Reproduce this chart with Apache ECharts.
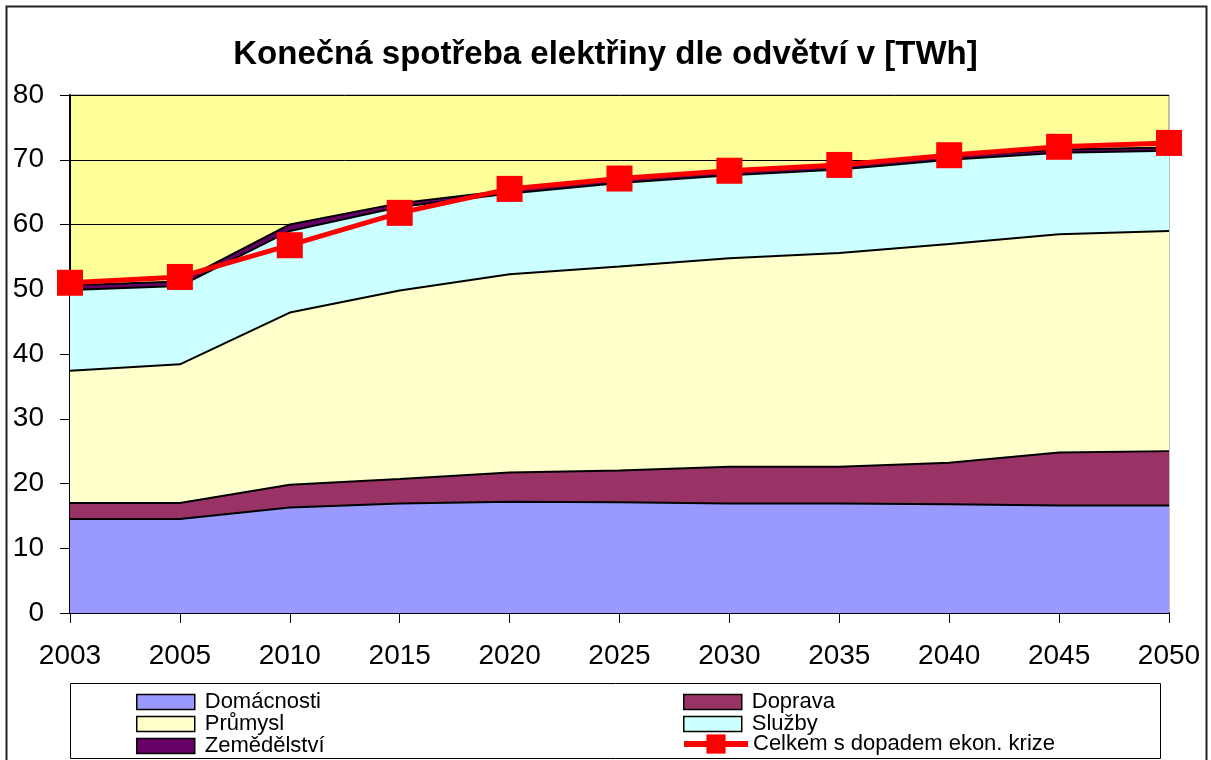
<!DOCTYPE html>
<html>
<head>
<meta charset="utf-8">
<script src="https://cdn.jsdelivr.net/npm/echarts@6/dist/echarts.min.js"></script>
<style>
  html, body { margin: 0; padding: 0; background: #fff; }
  #chart { width: 1211px; height: 760px; }
</style>
</head>
<body>
<div id="chart"></div>
<script>
// roky
var years = ['2003', '2005', '2010', '2015', '2020', '2025', '2030', '2035', '2040', '2045', '2050'];

// spotřeba podle odvětví [TWh]
var domacnosti  = [14.5, 14.5, 16.3, 16.9, 17.2, 17.1, 16.9, 16.9, 16.8, 16.6, 16.6];
var doprava     = [2.5, 2.5, 3.5, 3.8, 4.5, 4.9, 5.7, 5.7, 6.4, 8.2, 8.4];
var prumysl     = [20.4, 21.4, 26.6, 29.1, 30.6, 31.5, 32.2, 33.0, 33.8, 33.7, 34.0];
var sluzby      = [12.5, 12.1, 12.6, 12.9, 12.5, 12.9, 12.8, 12.9, 13.0, 12.6, 12.4];
var zemedelstvi = [0.7, 0.7, 1.0, 0.6, 0.5, 0.5, 0.5, 0.5, 0.5, 0.5, 0.5];
var celkem      = [51.0, 51.9, 56.8, 61.8, 65.5, 67.1, 68.3, 69.2, 70.7, 72.0, 72.6];

var font = 'Liberation Sans, Arial, sans-serif';

function area(name, data, color) {
	return {
		name: name,
		type: 'line',
		stack: 'total',
		data: data,
		showSymbol: false,
		symbol: 'none',
		lineStyle: { color: '#000', width: 2 },
		itemStyle: { color: color },
		areaStyle: { color: color, opacity: 1 },
		emphasis: { disabled: true }
	};
}

function legendItem(name) {
	return { name: name, icon: 'rect', itemStyle: { borderColor: '#000', borderWidth: 1.5 } };
}

// společné nastavení sloupců legendy
function legendCol(left, top, items) {
	return {
		orient: 'vertical',
		left: left,
		top: top,
		height: 80,
		padding: 0,
		itemWidth: 58,
		itemHeight: 15,
		itemGap: 0,
		textStyle: { fontFamily: font, fontSize: 22, lineHeight: 20, color: '#000', padding: [0, 0, 0, 5] },
		data: items
	};
}

// řádek s celkem - větší značka a tlustší čára
var legendCelkem = legendCol(681, 733, [{ name: 'Celkem s dopadem ekon. krize' }]);
legendCelkem.itemWidth = 64;
legendCelkem.itemHeight = 24;
legendCelkem.lineStyle = { width: 6 };
legendCelkem.textStyle.padding = [2, 0, 0, 0];

var chart = echarts.init(document.getElementById('chart'));

chart.setOption({
	animation: false,
	title: {
		text: 'Konečná spotřeba elektřiny dle odvětví v [TWh]',
		left: 'center',
		top: 33,
		textStyle: { fontFamily: font, fontSize: 33, fontWeight: 'bold', color: '#000' }
	},
	graphic: [
		{ type: 'rect', shape: { x: 6.5, y: 6.5, width: 1200, height: 780 }, style: { fill: 'none', stroke: '#222', lineWidth: 2 }, z: 100 },
		{ type: 'rect', shape: { x: 70.5, y: 683.5, width: 1090, height: 75 }, style: { fill: 'none', stroke: '#000', lineWidth: 1 }, z: 100 }
	],
	legend: [
		legendCol(136, 691, [legendItem('Domácnosti'), legendItem('Průmysl'), legendItem('Zemědělství')]),
		legendCol(683, 691, [legendItem('Doprava'), legendItem('Služby')]),
		legendCelkem
	],
	grid: {
		left: 70,
		right: 42,
		top: 95,
		bottom: 147,
		show: true,
		backgroundColor: '#FFFF99',
		borderColor: '#808080',
		borderWidth: 1
	},
	xAxis: {
		type: 'category',
		boundaryGap: false,
		data: years,
		axisLine: { lineStyle: { color: '#000', width: 2 } },
		axisTick: { show: true, length: 10, lineStyle: { color: '#000' } },
		axisLabel: { fontFamily: font, fontSize: 28, color: '#000', margin: 29 },
		splitLine: { show: false }
	},
	yAxis: {
		type: 'value',
		min: 0,
		max: 80,
		interval: 10,
		axisLine: { show: true, lineStyle: { color: '#000', width: 2 } },
		axisTick: { show: true, length: 10, lineStyle: { color: '#000' } },
		axisLabel: { fontFamily: font, fontSize: 28, color: '#000', margin: 26 },
		splitLine: { show: true, lineStyle: { color: '#000', width: 1 } }
	},
	series: [
		area('Domácnosti', domacnosti, '#9999FF'),
		area('Doprava', doprava, '#993366'),
		area('Průmysl', prumysl, '#FFFFCC'),
		area('Služby', sluzby, '#CCFFFF'),
		area('Zemědělství', zemedelstvi, '#660066'),
		{
			name: 'Celkem s dopadem ekon. krize',
			type: 'line',
			data: celkem,
			symbol: 'rect',
			symbolSize: 26,
			itemStyle: { color: '#FF0000' },
			lineStyle: { color: '#FF0000', width: 5 },
			emphasis: { disabled: true },
			z: 10
		}
	]
});
</script>
</body>
</html>
